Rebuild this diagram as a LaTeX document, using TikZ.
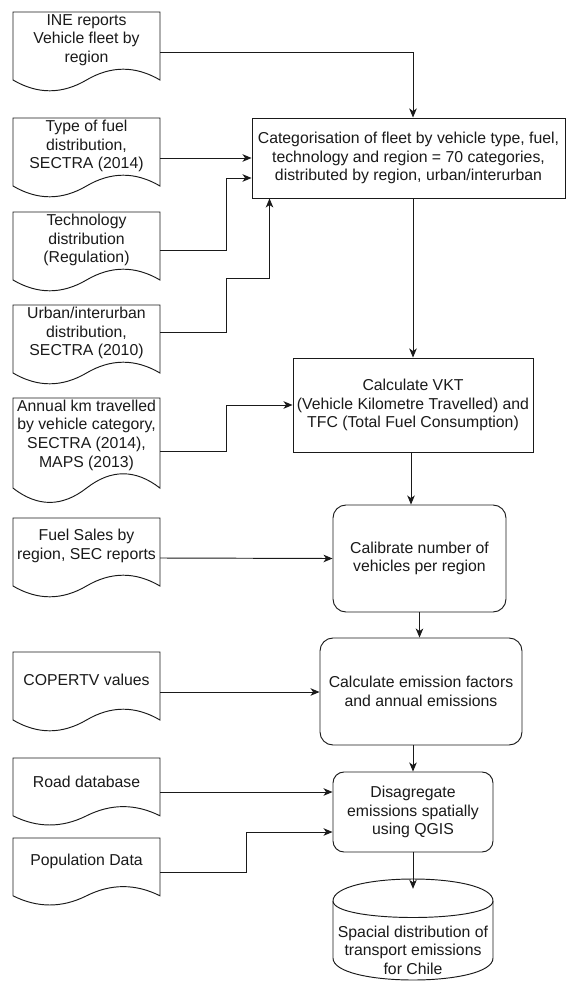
\documentclass[tikz,border=0pt]{standalone}
\usepackage{fontspec}
\setmainfont{Liberation Sans}
\usetikzlibrary{arrows.meta,calc}
\definecolor{ink}{HTML}{1A1A1A}
\tikzset{
 txt/.style={align=center, inner sep=0pt, font=\fontsize{15.8}{18.6}\selectfont, text=ink},
 docbb/.style={rectangle, minimum width=147pt, inner sep=0pt},
 shp/.style={draw=ink, line width=0.95pt, fill=white, line join=miter},
 boxnode/.style={txt, draw=ink, line width=0.95pt, fill=white},
 rbox/.style={boxnode, rounded corners=13pt},
 conn/.style={draw=ink, line width=0.95pt, -{Stealth[length=9pt,width=7.5pt,inset=2.5pt]}},
}
\newcommand{\docnode}[4]{%
  \node[docbb, minimum height=#3pt] (#1) at (86.5,{#2+#3/2}) {};
  \draw[shp] (13,#2) -- (160,#2) -- (160,{#2+0.85*#3})
    .. controls (135.5,{#2+0.67*#3}) and (111,{#2+0.67*#3}) .. (86.5,{#2+0.85*#3})
    .. controls (62,{#2+1.03*#3}) and (37.5,{#2+1.03*#3}) .. (13,{#2+0.85*#3}) -- cycle;
  \node[txt] (#1t) at (86.5,{#2+0.35*#3}) {#4};
}
\begin{document}
\begin{tikzpicture}[x=1pt,y=-1pt]
\useasboundingbox (0,0) rectangle (566,981);
\fill[white] (0,0) rectangle (566,981);

% documents
\docnode{d1}{12}{80}{INE reports\\Vehicle fleet by\\region}
\docnode{d2}{118}{80}{Type of fuel\\distribution,\\SECTRA (2014)}
\docnode{d3}{212}{80}{Technology\\distribution\\(Regulation)}
\docnode{d4}{305}{80}{Urban/interurban\\distribution,\\SECTRA (2010)}
\docnode{d5}{398}{106}{Annual km travelled\\by vehicle category,\\SECTRA (2014),\\MAPS (2013)}
\docnode{d6}{518}{80}{Fuel Sales by\\region, SEC reports}
\docnode{d7}{652}{80}{COPERTV values}
\docnode{d8}{758}{68}{Road database}
\docnode{d9}{838}{68}{Population Data}

% process boxes
\node[boxnode, minimum width=313pt, minimum height=80pt] (cat) at (408.5,158)
  {Categorisation of fleet by vehicle type, fuel,\\technology and region = 70 categories,\\distributed by region, urban/interurban};
\node[boxnode, minimum width=240pt, minimum height=94pt] (vkt) at (413,405)
  {Calculate VKT\\(Vehicle Kilometre Travelled) and\\TFC (Total Fuel Consumption)};
\node[rbox, minimum width=173pt, minimum height=107pt] (cal) at (419.5,558.5)
  {Calibrate number of\\vehicles per region};
\node[rbox, minimum width=202pt, minimum height=107pt] (emis) at (421,691.5)
  {Calculate emission factors\\and annual emissions};
\node[rbox, rounded corners=11pt, minimum width=160pt, minimum height=80pt] (dis) at (413,812)
  {Disagregate\\emissions spatially\\using QGIS};

% cylinder
\node[docbb, minimum width=160pt, minimum height=101pt] (cyl) at (413,929.5) {};
\draw[shp] (333,901) .. controls (333,871.67) and (493,871.67) .. (493,901)
  -- (493,958) .. controls (493,987.33) and (333,987.33) .. (333,958) -- cycle;
\draw[shp, fill=none] (333,901) .. controls (333,923) and (493,923) .. (493,901);
\node[txt] (cylt) at (413,950) {Spacial distribution of\\transport emissions\\for Chile};

% connectors
\draw[conn] (d1.east) -| ([xshift=4.5pt]cat.north);
\draw[conn] (d2.east) -- (cat.west);
\draw[conn] ([yshift=2pt]d3.east) -- ++(66,0) |- ([yshift=-20pt]cat.west);
\draw[conn] ([yshift=13pt]d4.east) -- ++(66,0) -- ++(0,-54) -| ([xshift=18pt]cat.south west);
\draw[conn] ([xshift=4.5pt]cat.south) -- (vkt.north);
\draw[conn] (d5.east) -- ++(66,0) |- (vkt.west);
\draw[conn] ([xshift=-2pt]vkt.south) -- ([xshift=-2pt]vkt.south |- cal.north);
\draw[conn] (d6.east) -- (cal.west);
\draw[conn] (cal.south) -- (cal.south |- emis.north);
\draw[conn] (d7.east) -- (d7.east -| emis.west);
\draw[conn] (dis.north |- emis.south) -- (dis.north);
\draw[conn] (d8.east) -- (d8.east -| dis.west);
\draw[conn] (d9.east) -- ++(86,0) |- ([yshift=-20pt]dis.west);
\draw[conn] (dis.south) -- ([yshift=-10pt]cyl.north);
\end{tikzpicture}
\end{document}
